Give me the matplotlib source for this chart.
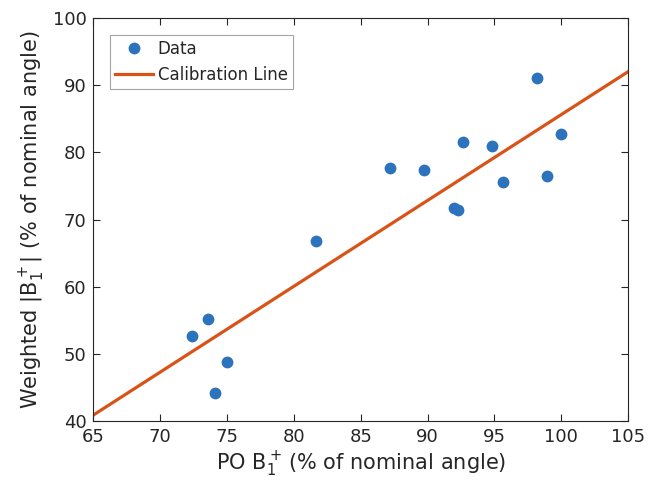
import matplotlib
matplotlib.use("Agg")
import matplotlib.pyplot as plt
import numpy as np

po_b1 = [81.65, 72.37, 73.55, 74.97, 74.12, 87.17, 89.76, 92.68, 94.85, 95.65,
         91.98, 92.28, 98.2, 98.9, 100.0]
weighted_b1 = [66.86, 52.63, 55.2, 48.85, 44.1, 77.6, 77.43, 81.55, 80.9, 75.6,
               71.73, 71.48, 91.07, 76.5, 82.74]
line_x = [65, 105]
line_y = [40.9, 92.0]

xticks = [65, 70, 75, 80, 85, 90, 95, 100, 105]
yticks = [40, 50, 60, 70, 80, 90, 100]

plt.rcParams['font.family'] = ['DejaVu Sans']
plt.rcParams['mathtext.fontset'] = 'dejavusans'
dark = '#262626'

fig = plt.figure(figsize=(6.5, 4.92), dpi=100)
ax = fig.add_axes([0.1438, 0.1443, 0.8224, 0.8191])

ax.plot(po_b1, weighted_b1, 'o', color='#2C72BC', markersize=8.5,
        markeredgewidth=0, label='Data', zorder=3)
ax.plot(line_x, line_y, '-', color='#D95319', linewidth=2.3,
        label='Calibration Line', zorder=2)

ax.set_xlim(65, 105)
ax.set_ylim(40, 100)
ax.set_xticks(xticks)
ax.set_yticks(yticks)
ax.tick_params(direction='in', top=True, right=True, length=5, width=0.8,
               colors=dark, labelsize=13, labelcolor=dark, pad=5)
for s in ax.spines.values():
    s.set_color(dark)
    s.set_linewidth(0.8)

ax.set_xlabel(r'PO $\mathrm{B}_1^+\,$(% of nominal angle)', fontsize=15, color=dark, labelpad=3)
ax.set_ylabel(r'Weighted $|\mathrm{B}_1^+|$ (% of nominal angle)', fontsize=15, color=dark, labelpad=4)

leg = ax.legend(loc='upper left', fontsize=12, frameon=True, fancybox=False,
                edgecolor='#8c8c8c', borderpad=0.3, handlelength=2.3,
                handletextpad=0.25, labelspacing=0.5, borderaxespad=1.0)
leg.get_frame().set_linewidth(0.8)
for t in leg.get_texts():
    t.set_color(dark)

fig.savefig('out.png', dpi=100)
